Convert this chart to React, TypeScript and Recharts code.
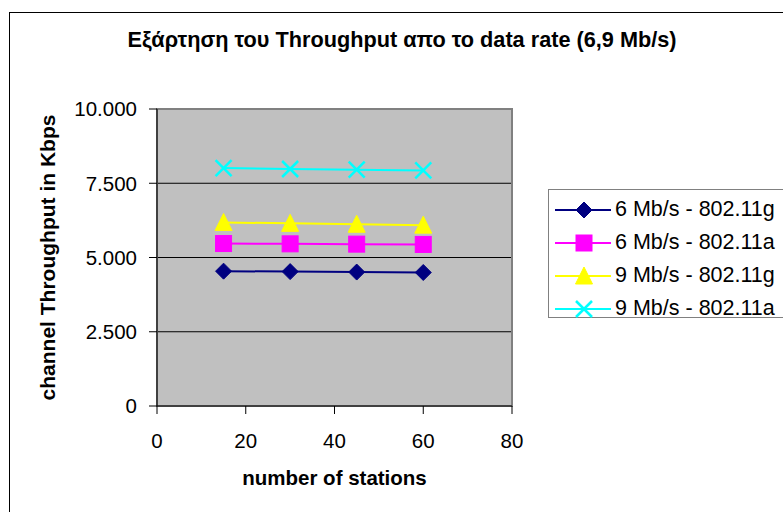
import React from "react";
import {
  LineChart,
  Line,
  XAxis,
  YAxis,
  CartesianGrid,
  ReferenceArea,
} from "recharts";

const FONT = '"Liberation Sans", Arial, sans-serif';

const STATIONS = [15, 30, 45, 60];
const G6 = [4540, 4525, 4510, 4495];
const A6 = [5470, 5460, 5450, 5440];
const G9 = [6180, 6150, 6120, 6090];
const A9 = [8010, 7980, 7955, 7930];

const X_TICKS = [0, 20, 40, 60, 80];
const Y_TICKS = [0, 2500, 5000, 7500, 10000];

const SERIES = [
  { key: "g6", name: "6 Mb/s - 802.11g", color: "#000080", shape: "diamond" },
  { key: "a6", name: "6 Mb/s - 802.11a", color: "#FF00FF", shape: "square" },
  { key: "g9", name: "9 Mb/s - 802.11g", color: "#FFFF00", shape: "triangle" },
  { key: "a9", name: "9 Mb/s - 802.11a", color: "#00FFFF", shape: "cross" },
];

const data = STATIONS.map((s, i) => ({
  stations: s,
  g6: G6[i],
  a6: A6[i],
  g9: G9[i],
  a9: A9[i],
}));

const fmt = (v: number) => String(v).replace(/\B(?=(\d{3})+(?!\d))/g, ".");

function Marker({ shape, color, cx, cy }: any) {
  if (shape === "diamond") {
    const r = 8;
    return (
      <polygon
        points={`${cx},${cy - r} ${cx + r},${cy} ${cx},${cy + r} ${cx - r},${cy}`}
        fill={color}
        stroke={color}
      />
    );
  }
  if (shape === "square") {
    return <rect x={cx - 8} y={cy - 8} width={16} height={16} fill={color} stroke={color} />;
  }
  if (shape === "triangle") {
    return (
      <polygon
        points={`${cx},${cy - 9} ${cx + 8.5},${cy + 8} ${cx - 8.5},${cy + 8}`}
        fill={color}
        stroke={color}
      />
    );
  }
  return (
    <g stroke={color} strokeWidth={2.5}>
      <line x1={cx - 8} y1={cy - 8} x2={cx + 8} y2={cy + 8} />
      <line x1={cx - 8} y1={cy + 8} x2={cx + 8} y2={cy - 8} />
    </g>
  );
}

const dotFor = (shape: string, color: string) => (props: any) => (
  <Marker key={`${shape}-${props.index}`} shape={shape} color={color} cx={props.cx} cy={props.cy} />
);

function ChartLegend() {
  return (
    <div
      style={{
        position: "absolute",
        left: 548,
        top: 189,
        border: "1px solid #808080",
        background: "#fff",
        boxSizing: "border-box",
        height: 129,
        width: 260,
        paddingTop: 3,
        fontFamily: FONT,
      }}
    >
      {SERIES.map((s) => (
        <div key={s.key} style={{ display: "flex", alignItems: "center", height: 33 }}>
          <svg width={66} height={24} style={{ flex: "none" }}>
            <line x1={6} y1={12} x2={62} y2={12} stroke={s.color} strokeWidth={2} />
            <Marker shape={s.shape} color={s.color} cx={35} cy={12} />
          </svg>
          <span style={{ fontSize: 21.5, color: "#000", whiteSpace: "nowrap" }}>{s.name}</span>
        </div>
      ))}
    </div>
  );
}

export default function App() {
  return (
    <div
      style={{
        position: "absolute",
        left: 0,
        top: 0,
        width: 783,
        height: 512,
        overflow: "hidden",
        background: "#fff",
        fontFamily: FONT,
      }}
    >
      <div
        style={{
          position: "absolute",
          left: 9,
          top: 12,
          width: 800,
          height: 520,
          border: "1.5px solid #000",
        }}
      />
      <div
        style={{
          position: "absolute",
          left: 0,
          top: 29,
          width: 804,
          textAlign: "center",
          fontSize: 21.7,
          lineHeight: "22px",
          fontWeight: "bold",
          color: "#000",
        }}
      >
        Εξάρτηση του Throughput απο το data rate (6,9 Mb/s)
      </div>
      <LineChart
        width={783}
        height={512}
        data={data}
        margin={{ top: 109, right: 271, bottom: 66, left: 0 }}
        style={{ position: "absolute", left: 0, top: 0 }}
      >
        <CartesianGrid vertical={false} fill="#C0C0C0" fillOpacity={1} stroke="#000" strokeOpacity={1} />
        <ReferenceArea
          x1={0}
          x2={80}
          y1={0}
          y2={10000}
          fill="none"
          stroke="#808080"
          strokeWidth={2}
          fillOpacity={0}
        />
        <XAxis
          dataKey="stations"
          type="number"
          domain={[0, 80]}
          ticks={X_TICKS}
          height={40}
          tickSize={8}
          tickMargin={19}
          axisLine={{ stroke: "#000" }}
          tickLine={{ stroke: "#000" }}
          tick={{ fill: "#000", fontSize: 20.5, fontFamily: FONT }}
          label={{
            value: "number of stations",
            position: "bottom",
            offset: 24,
            style: { fill: "#000", fontSize: 20.5, fontWeight: "bold", fontFamily: FONT },
          }}
        />
        <YAxis
          type="number"
          domain={[0, 10000]}
          ticks={Y_TICKS}
          width={157}
          tickSize={8}
          tickMargin={12}
          tickFormatter={fmt}
          axisLine={{ stroke: "#000" }}
          tickLine={{ stroke: "#000" }}
          tick={{ fill: "#000", fontSize: 20.5, fontFamily: FONT }}
          label={{
            value: "channel Throughput in Kbps",
            angle: -90,
            position: "insideLeft",
            offset: 48,
            style: {
              fill: "#000",
              fontSize: 21,
              fontWeight: "bold",
              fontFamily: FONT,
              textAnchor: "middle",
            },
          }}
        />
        {SERIES.map((s) => (
          <Line
            key={s.key}
            type="linear"
            dataKey={s.key}
            name={s.name}
            stroke={s.color}
            strokeWidth={2}
            dot={dotFor(s.shape, s.color)}
            activeDot={false}
            isAnimationActive={false}
          />
        ))}
      </LineChart>
      <ChartLegend />
    </div>
  );
}
